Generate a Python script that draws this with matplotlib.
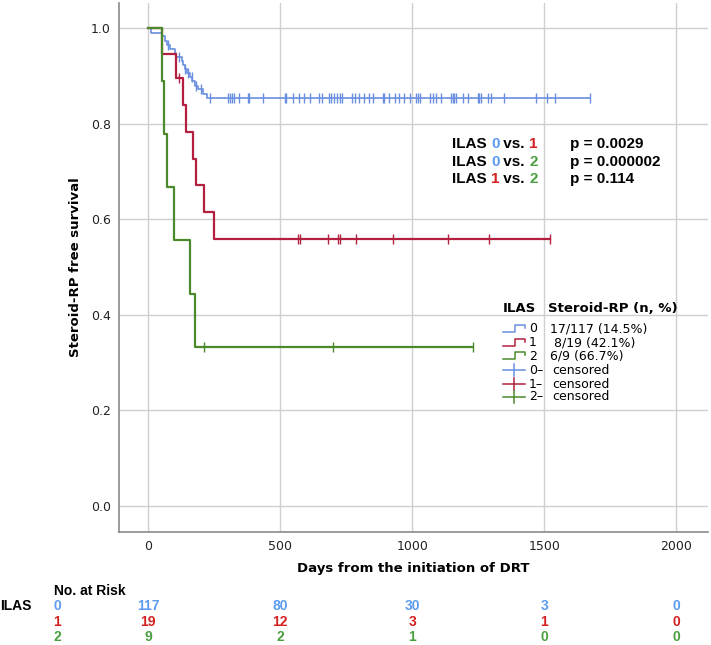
import numpy as np
import matplotlib
matplotlib.use("Agg")
import matplotlib.pyplot as plt
from matplotlib.lines import Line2D

# ---- data ----
groups = ["0", "1", "2"]
colors = ["#6a8fe0", "#b3203f", "#4a8a2c"]
text_colors = ["#5b9cf0", "#d42020", "#4aa040"]

# ILAS 0 (n=117, 17 events)
t0_events = [10, 51, 64, 70, 83, 101, 105, 127, 133, 139, 148, 158, 168, 177, 189, 208, 223]
s0_values = [0.991, 0.983, 0.974, 0.966, 0.957, 0.949, 0.940, 0.932, 0.923, 0.915,
             0.906, 0.897, 0.889, 0.880, 0.872, 0.863, 0.855]
t0_censor = [77, 118, 140, 152, 165, 182, 200, 233, 302, 311, 318, 327, 343, 377, 383, 436,
             517, 524, 549, 572, 590, 615, 647, 657, 684, 694, 703, 716, 725, 735, 772,
             782, 797, 816, 835, 850, 888, 895, 913, 936, 950, 969, 990, 1016, 1022, 1029,
             1066, 1079, 1091, 1110, 1148, 1154, 1160, 1167, 1192, 1210, 1248, 1254, 1260,
             1286, 1298, 1348, 1467, 1511, 1542, 1674]
t0_end = 1674

# ILAS 1 (n=19, 8 events)
t1_events = [54, 106, 132, 144, 170, 180, 213, 248]
s1_values = [0.947, 0.895, 0.839, 0.783, 0.727, 0.671, 0.615, 0.559]
t1_censor = [119, 568, 576, 682, 718, 728, 789, 929, 1134, 1290, 1521]
t1_end = 1521

# ILAS 2 (n=9, 6 events)
t2_events = [54, 62, 71, 99, 157, 178]
s2_values = [0.889, 0.778, 0.667, 0.556, 0.444, 0.333]
t2_censor = [210, 702, 1229]
t2_end = 1229

legend_counts = ["17/117 (14.5%)", " 8/19 (42.1%)", "6/9 (66.7%)"]
p_labels = [("0", "1", "p = 0.0029"), ("0", "2", "p = 0.000002"), ("1", "2", "p = 0.114")]

risk_times = [0, 500, 1000, 1500, 2000]
risk_0 = [117, 80, 30, 3, 0]
risk_1 = [19, 12, 3, 1, 0]
risk_2 = [9, 2, 1, 0, 0]

W, H = 711, 645
fig = plt.figure(figsize=(W / 100, H / 100), dpi=100)
ax = fig.add_axes([119 / W, 1 - 532 / H, (708 - 119) / W, (532 - 3) / H])


def fx(px):
    return px / W


def fy(py):
    return 1 - py / H


curves = [(t0_events, s0_values, t0_censor, t0_end),
          (t1_events, s1_values, t1_censor, t1_end),
          (t2_events, s2_values, t2_censor, t2_end)]
lws = [1.2, 1.6, 1.6]

for (te, sv, tc, tend), c, lw in zip(curves, colors, lws):
    xs = np.array([0] + te + [tend])
    ys = np.array([1.0] + sv + [sv[-1]])
    ax.step(xs, ys, where="post", color=c, lw=lw, zorder=3)
    idx = np.searchsorted(xs, tc, side="right") - 1
    ax.plot(tc, ys[idx], ls="none", marker="|", ms=7, mew=1.0, color=c, zorder=4)

ax.set_xlim(-110, 2120)
ax.set_ylim(-0.055, 1.053)
ax.set_xticks(risk_times)
ax.set_yticks([0.0, 0.2, 0.4, 0.6, 0.8, 1.0])
ax.set_yticklabels(["0.0", "0.2", "0.4", "0.6", "0.8", "1.0"])
ax.grid(True, color="#cfcfcf", lw=1.0, zorder=0)
ax.set_axisbelow(True)
for s in ["top", "right"]:
    ax.spines[s].set_visible(False)
for s in ["left", "bottom"]:
    ax.spines[s].set_color("#8a8a8a")
    ax.spines[s].set_linewidth(1.2)
ax.tick_params(length=0, labelsize=9, colors="#222222", pad=6)
ax.set_xlabel("Days from the initiation of DRT", fontsize=9.5, fontweight="bold", labelpad=6)
ax.set_ylabel("Steroid-RP free survival", fontsize=9.5, fontweight="bold", labelpad=6)

# ---- p-value annotation ----
arial = ["Liberation Sans", "DejaVu Sans"]
tcol = {g: c for g, c in zip(groups, text_colors)}
fig.canvas.draw()
r = fig.canvas.get_renderer()
for i, (a, b, p) in enumerate(p_labels):
    y = fy(144 + i * 17.5)
    cur = fx(452) * W
    parts = [("ILAS ", "black"), (a, tcol[a]), (" vs. ", "black"), (b, tcol[b])]
    for txt, c in parts:
        t2 = fig.text(cur / W, y, txt.replace(" ", "\u00a0"), fontsize=11, fontweight="bold",
                      family=arial, va="center", color=c)
        cur = t2.get_window_extent(r).x1
    fig.text(fx(570), y, p, fontsize=11, fontweight="bold", family=arial, va="center")

# ---- legend ----
fig.text(fx(503), fy(309), "ILAS", fontsize=9.5, fontweight="bold", va="center")
fig.text(fx(548), fy(309), "Steroid-RP (n, %)", fontsize=9.5, fontweight="bold", va="center")
row_y = [329, 343, 356, 370, 384, 397]
for i, g in enumerate(groups):
    y = row_y[i]
    fig.add_artist(Line2D([fx(503), fx(515), fx(515), fx(525), fx(525)],
                          [fy(y + 3), fy(y + 3), fy(y - 4), fy(y - 4), fy(y - 1)],
                          color=colors[i], lw=1.1))
    fig.text(fx(529), fy(y), g, fontsize=9, va="center")
    fig.text(fx(550), fy(y), legend_counts[i], fontsize=9, va="center")
for i, g in enumerate(groups):
    y = row_y[3 + i]
    fig.add_artist(Line2D([fx(503), fx(525)], [fy(y), fy(y)], color=colors[i], lw=1.1))
    fig.add_artist(Line2D([fx(514), fx(514)], [fy(y - 6), fy(y + 6)], color=colors[i], lw=1.1))
    fig.text(fx(529), fy(y), g + "\u2013", fontsize=9, va="center")
    fig.text(fx(552), fy(y), "censored", fontsize=9, va="center")

# ---- number at risk table ----
narrow = ["Liberation Sans Narrow", "Liberation Sans", "DejaVu Sans"]
fig.text(fx(54), fy(591), "No. at Risk", fontsize=10, fontweight="bold", family=narrow, va="center")
fig.text(fx(0), fy(606), "ILAS", fontsize=10, fontweight="bold", family=narrow, va="center")
rows = [risk_0, risk_1, risk_2]
trans = matplotlib.transforms.blended_transform_factory(ax.transData, fig.transFigure)
for i, (g, vals) in enumerate(zip(groups, rows)):
    y = fy(606 + i * 15.5)
    fig.text(fx(57), y, g, fontsize=10, fontweight="bold", family=narrow, va="center",
             ha="center", color=text_colors[i])
    for tx, v in zip(risk_times, vals):
        fig.text(tx, y, str(v), transform=trans, fontsize=10, fontweight="bold", family=narrow,
                 va="center", ha="center", color=text_colors[i])

fig.savefig("out.png", dpi=100)
